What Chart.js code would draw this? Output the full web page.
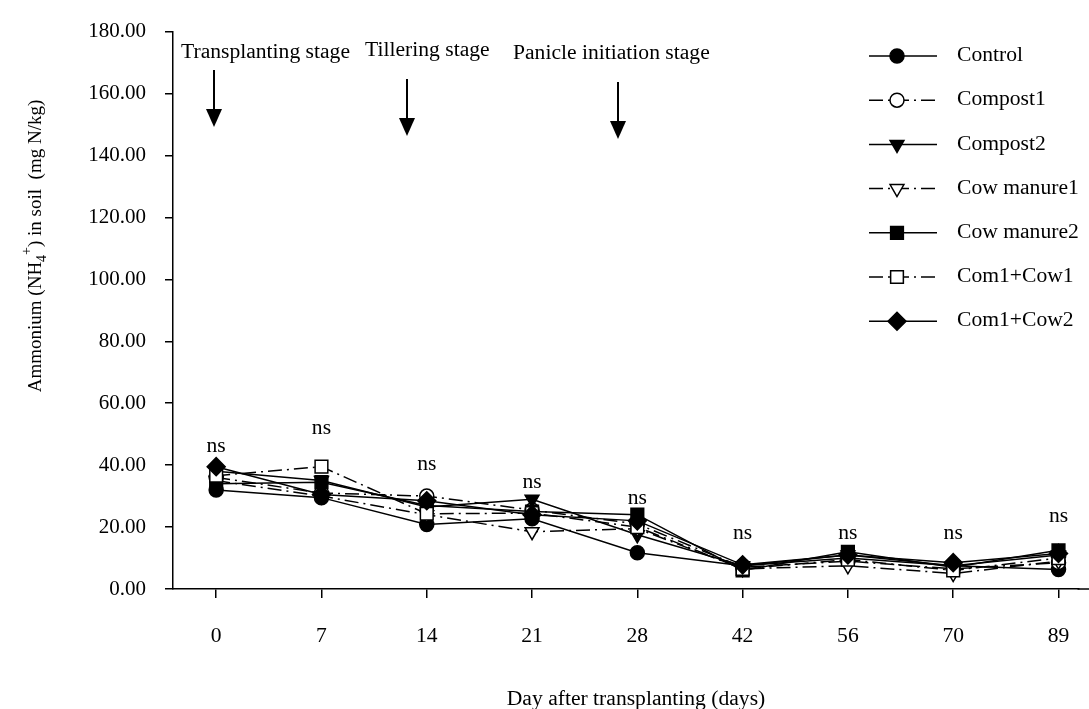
<!DOCTYPE html>
<html>
<head>
<meta charset="utf-8">
<script src="https://cdn.jsdelivr.net/npm/chart.js@4.4.0/dist/chart.umd.min.js"></script>
<style>
  html, body { margin: 0; padding: 0; background: #fff; }
  #wrap { width: 1089px; height: 709px; }
</style>
</head>
<body>
<div id="wrap"><canvas id="chart" width="1089" height="709"></canvas></div>
<script>
// 날짜 (이식 후 일수) 와 y 눈금
const days = ['0', '7', '14', '21', '28', '42', '56', '70', '89'];
const yTicks = [0, 20, 40, 60, 80, 100, 120, 140, 160, 180];

// 처리별 암모늄 값 (mg N/kg)
const control    = [32.0, 29.5, 20.8, 22.7, 11.7, 7.5, 10.0, 7.5, 6.3];
const compost1   = [36.0, 31.0, 30.0, 25.5, 21.0, 7.0, 9.0, 6.5, 8.5];
const compost2   = [38.0, 35.0, 26.5, 29.0, 17.5, 7.5, 11.0, 7.5, 11.0];
const cowManure1 = [35.0, 30.0, 24.0, 18.5, 19.5, 6.5, 7.5, 5.0, 9.0];
const cowManure2 = [34.0, 34.5, 27.0, 25.0, 24.0, 6.0, 12.0, 7.0, 12.5];
const com1Cow1   = [36.6, 39.5, 24.3, 24.5, 20.0, 6.5, 9.5, 6.0, 10.0];
const com1Cow2   = [39.5, 30.5, 28.5, 24.0, 22.0, 7.8, 11.0, 8.5, 11.5];

// "ns" 표시 위치 (y 값 기준)
const nsAt = [46.0, 51.7, 40.0, 34.4, 29.0, 17.7, 18.0, 17.7, 23.3];

const FONT = '"Liberation Serif", "Times New Roman", serif';
const SX = 1.08; // 원본 글자가 가로로 살짝 늘어나 있음

// 시리즈 스타일 (이름, 값, 마커, 채움, 점선 여부)
const series = [
    { label: 'Control',     data: control,    style: 'circle',   rot: 0,   open: false, dash: false, r: 7 },
    { label: 'Compost1',    data: compost1,   style: 'circle',   rot: 0,   open: true,  dash: true,  r: 7 },
    { label: 'Compost2',    data: compost2,   style: 'triangle', rot: 180, open: false, dash: false, r: 8 },
    { label: 'Cow manure1', data: cowManure1, style: 'triangle', rot: 180, open: true,  dash: true,  r: 8 },
    { label: 'Cow manure2', data: cowManure2, style: 'rect',     rot: 0,   open: false, dash: false, r: 9 },
    { label: 'Com1+Cow1',   data: com1Cow1,   style: 'rect',     rot: 0,   open: true,  dash: true,  r: 9 },
    { label: 'Com1+Cow2',   data: com1Cow2,   style: 'rectRot',  rot: 0,   open: false, dash: false, r: 9 }
];
const DASH = [14, 5, 2, 5];

const datasets = series.map((s, i) => ({
    label: s.label,
    data: s.data.map((v, k) => ({ x: k, y: v })),
    borderColor: '#000',
    borderWidth: 1.5,
    borderDash: s.dash ? DASH : [],
    tension: 0,
    fill: false,
    pointStyle: s.style,
    pointRotation: s.rot,
    pointRadius: s.r,
    pointBorderWidth: 1.5,
    pointBorderColor: '#000',
    pointBackgroundColor: s.open ? '#fff' : '#000',
    order: series.length - 1 - i  // 나중 시리즈가 위에 그려지도록
}));

// 글자 그리기 (가로 늘림)
function txt(ctx, s, x, y, size, align) {
    ctx.save();
    ctx.font = size + 'px ' + FONT;
    ctx.fillStyle = '#000';
    ctx.textBaseline = 'middle';
    ctx.textAlign = 'left';
    const w = ctx.measureText(s).width * SX;
    const x0 = align === 'center' ? x - w / 2 : (align === 'right' ? x - w : x);
    ctx.translate(x0, y);
    ctx.scale(SX, 1);
    ctx.fillText(s, 0, 0);
    ctx.restore();
}

function arrow(ctx, x, top, tip) {
    ctx.save();
    ctx.strokeStyle = '#000';
    ctx.fillStyle = '#000';
    ctx.lineWidth = 2;
    ctx.beginPath();
    ctx.moveTo(x, top);
    ctx.lineTo(x, tip - 14);
    ctx.stroke();
    ctx.beginPath();
    ctx.moveTo(x - 8, tip - 18);
    ctx.lineTo(x + 8, tip - 18);
    ctx.lineTo(x, tip);
    ctx.closePath();
    ctx.fill();
    ctx.restore();
}

function marker(ctx, s, x, y) {
    ctx.save();
    ctx.setLineDash([]);
    ctx.lineWidth = 1.5;
    ctx.strokeStyle = '#000';
    ctx.fillStyle = s.open ? '#fff' : '#000';
    Chart.helpers.drawPoint(ctx, { pointStyle: s.style, rotation: s.rot, radius: s.r, borderWidth: 1.5 }, x, y);
    ctx.restore();
}

const decorPlugin = {
    id: 'decor',
    beforeDatasetsDraw(chart) {
        const ctx = chart.ctx;
        const xs = chart.scales.x, ys = chart.scales.y;
        // ns 라벨
        nsAt.forEach((v, i) => {
            txt(ctx, 'ns', xs.getPixelForValue(i), ys.getPixelForValue(v), 20, 'center');
        });
    },
    afterDraw(chart) {
        const ctx = chart.ctx;
        const xs = chart.scales.x;

        // x축 선을 캔버스 오른쪽 끝까지 연장 (원본처럼)
        ctx.save();
        ctx.strokeStyle = '#000';
        ctx.lineWidth = 1.5;
        ctx.beginPath();
        ctx.moveTo(xs.right - 1, xs.top);
        ctx.lineTo(chart.width, xs.top);
        ctx.stroke();
        ctx.restore();

        // x축 눈금 라벨 (Chart.js 라벨 여백 때문에 축이 짧아져서 직접 그림)
        days.forEach((d, i) => {
            txt(ctx, d, xs.getPixelForValue(i), 637, 20, 'center');
        });

        // 생육 단계 표시
        txt(ctx, 'Transplanting stage', 181, 53, 20, 'left');
        txt(ctx, 'Tillering stage', 365, 51, 20, 'left');
        txt(ctx, 'Panicle initiation stage', 513, 54, 20, 'left');
        arrow(ctx, 214, 70, 127);
        arrow(ctx, 407, 79, 136);
        arrow(ctx, 618, 82, 139);

        // 범례
        series.forEach((s, i) => {
            const y = 56 + i * 44.2;
            ctx.save();
            ctx.strokeStyle = '#000';
            ctx.lineWidth = 1.5;
            ctx.setLineDash(s.dash ? DASH : []);
            ctx.beginPath();
            ctx.moveTo(869, y);
            ctx.lineTo(937, y);
            ctx.stroke();
            ctx.restore();
            marker(ctx, s, 897, y);
            txt(ctx, s.label, 957, y, 20, 'left');
        });

        // x축 제목
        txt(ctx, 'Day after transplanting (days)', 636, 700, 20, 'center');

        // y축 제목 (NH4+ 아래/위 첨자)
        ctx.save();
        ctx.translate(33, 246);
        ctx.rotate(-Math.PI / 2);
        ctx.fillStyle = '#000';
        ctx.textBaseline = 'alphabetic';
        ctx.textAlign = 'left';
        const big = '19px ' + FONT, small = '14px ' + FONT;
        const p1 = 'Ammonium (NH', p2 = ') in soil  (mg N/kg)';
        ctx.font = big;
        const w1 = ctx.measureText(p1).width, w2 = ctx.measureText(p2).width;
        ctx.font = small;
        const wSub = ctx.measureText('4').width, wSup = ctx.measureText('+').width;
        let x = -(w1 + wSub + wSup + w2) / 2;
        const base = 8;
        ctx.font = big;   ctx.fillText(p1, x, base); x += w1;
        ctx.font = small; ctx.fillText('4', x, base + 5); x += wSub;
        ctx.fillText('+', x, base - 10); x += wSup;
        ctx.font = big;   ctx.fillText(p2, x, base);
        ctx.restore();
    }
};

new Chart(document.getElementById('chart'), {
    type: 'line',
    data: { datasets: datasets },
    plugins: [decorPlugin],
    options: {
        responsive: false,
        animation: false,
        devicePixelRatio: 1,
        layout: { padding: { top: 18, right: 0, bottom: 0, left: 0 } },
        plugins: { legend: { display: false }, tooltip: { enabled: false } },
        scales: {
            x: {
                type: 'linear',
                min: -0.41,
                max: 8.19,
                afterBuildTicks: s => { s.ticks = days.map((d, i) => ({ value: i })); },
                afterFit: s => { s.height = 120; },
                ticks: { display: false },
                grid: { drawOnChartArea: false, drawTicks: true, tickLength: 9, color: '#000', lineWidth: 1.5 },
                border: { display: true, color: '#000', width: 1.5 }
            },
            y: {
                min: 0,
                max: 180,
                afterBuildTicks: s => { s.ticks = yTicks.map(v => ({ value: v })); },
                afterFit: s => { s.width = 173; },
                ticks: {
                    callback: v => Number(v).toFixed(2),
                    font: { family: FONT, size: 21 },
                    color: '#000',
                    padding: 19
                },
                grid: { drawOnChartArea: false, drawTicks: true, tickLength: 8, color: '#000', lineWidth: 1.5 },
                border: { display: true, color: '#000', width: 1.5 }
            }
        }
    }
});
</script>
</body>
</html>
